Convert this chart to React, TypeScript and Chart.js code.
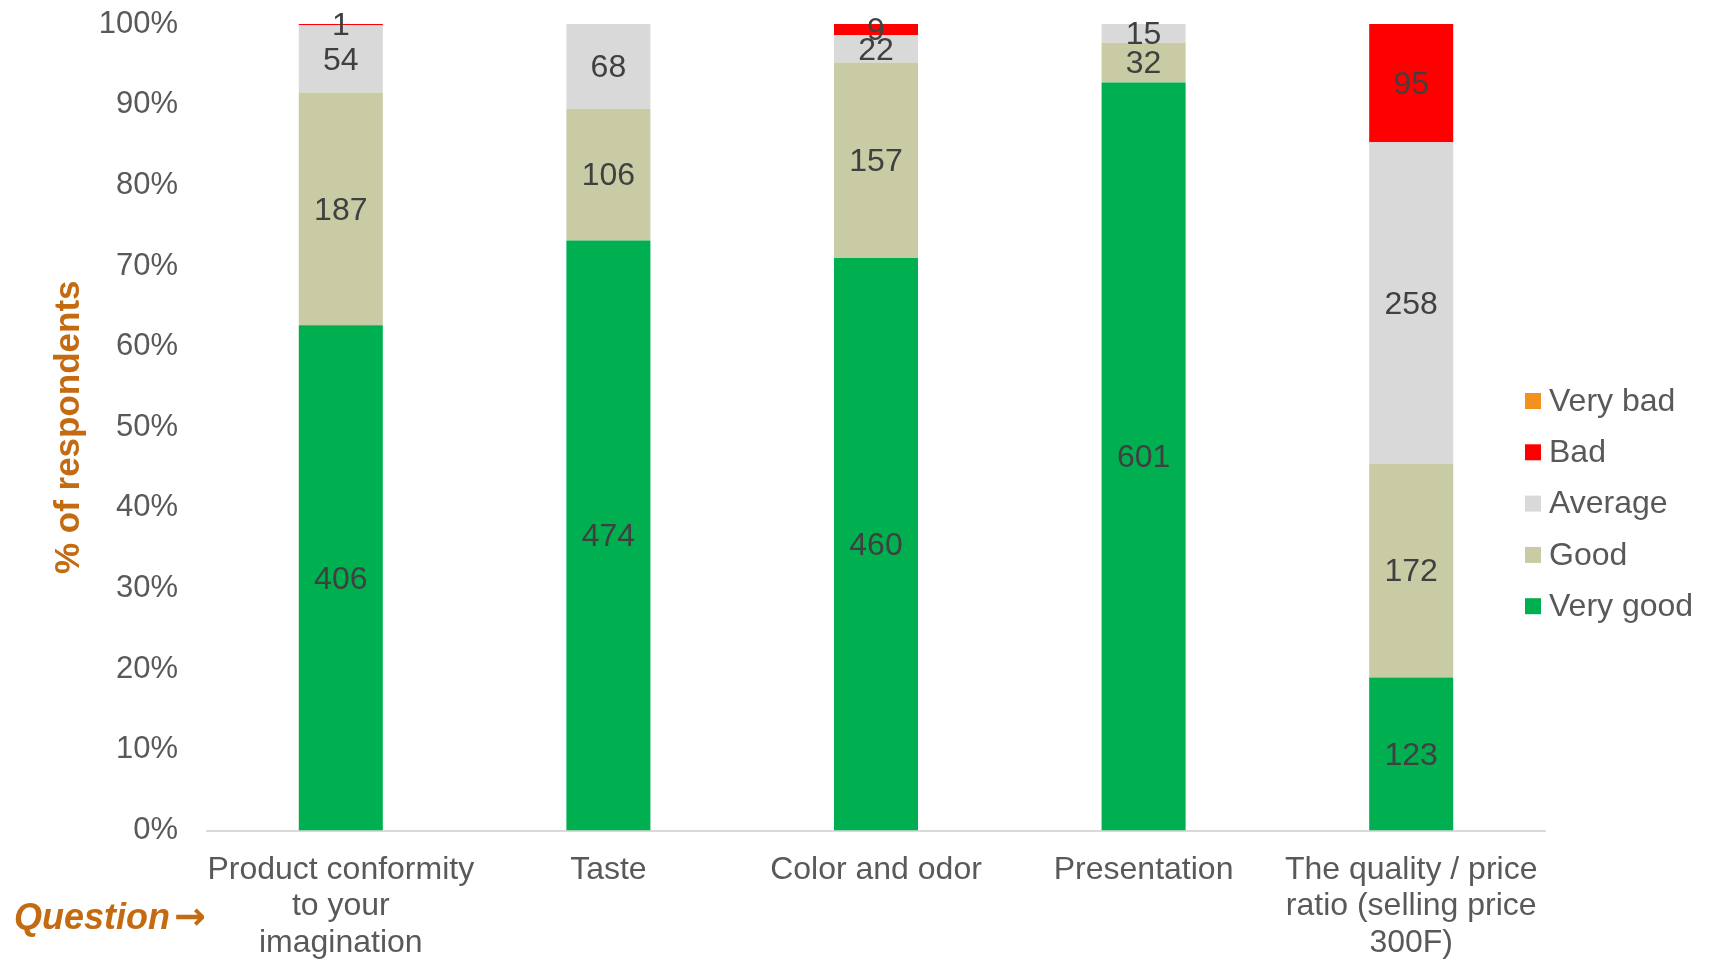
import React, { useEffect, useRef } from "react";
import { Chart, registerables } from "chart.js";

Chart.register(...registerables);

const categories: string[][] = [
  ["Product conformity", "to your", "imagination"],
  ["Taste"],
  ["Color and odor"],
  ["Presentation"],
  ["The quality / price", "ratio (selling price", "300F)"],
];
const seriesNames = ["Very good", "Good", "Average", "Bad", "Very bad"];
const veryGood = [406, 474, 460, 601, 123];
const good = [187, 106, 157, 32, 172];
const average = [54, 68, 22, 15, 258];
const bad = [1, 0, 9, 0, 95];
const veryBad = [0, 0, 0, 0, 0];
const seriesColors = ["#00B050", "#C9CBA4", "#D9D9D9", "#FF0000", "#F39020"];
const yTickValues = [0, 10, 20, 30, 40, 50, 60, 70, 80, 90, 100];
const yTitle = "% of respondents";
const questionLabel = "Question";
const questionArrow = "\u2192";

const FONT = '"Liberation Sans", Arial, sans-serif';
const ORANGE = "#C46A10";
const TEXT = 32;
const X_TICK_PAD = 21;
const Y_AXIS_WIDTH = 159;

export default function App() {
  const ref = useRef<HTMLCanvasElement | null>(null);

  useEffect(() => {
    document.body.style.margin = "0";
    document.body.style.overflow = "hidden";
    const canvas = ref.current;
    if (!canvas) return;

    const seriesCounts = [veryGood, good, average, bad, veryBad];
    const totals = categories.map((_, i) =>
      seriesCounts.reduce((s, arr) => s + arr[i], 0)
    );

    const datasets = seriesCounts.map((arr, si) => ({
      label: seriesNames[si],
      data: arr.map((v, i) => (v / totals[i]) * 100),
      counts: arr,
      backgroundColor: seriesColors[si],
      borderWidth: 0,
      barPercentage: 0.314,
      categoryPercentage: 1,
    }));

    const labelPlugin = {
      id: "segLabels",
      afterDatasetsDraw(chart: any) {
        const ctx = chart.ctx;
        ctx.save();
        ctx.font = `${TEXT}px ${FONT}`;
        ctx.fillStyle = "#404040";
        ctx.textAlign = "center";
        ctx.textBaseline = "middle";
        chart.data.datasets.forEach((ds: any, di: number) => {
          const meta = chart.getDatasetMeta(di);
          meta.data.forEach((el: any, i: number) => {
            const c = ds.counts[i];
            if (!c) return;
            const p = el.getProps(["x", "y", "base"], true);
            ctx.fillText(String(c), p.x, (p.y + p.base) / 2 + 2);
          });
        });
        ctx.restore();
      },
    };

    const legendPlugin = {
      id: "customLegend",
      afterDraw(chart: any) {
        const ctx = chart.ctx;
        ctx.save();
        ctx.font = `${TEXT}px ${FONT}`;
        ctx.textBaseline = "middle";
        ctx.textAlign = "left";
        const ds = chart.data.datasets.slice().reverse();
        const x0 = chart.chartArea.right - 20;
        const y0 = 401;
        const step = 51.3;
        ds.forEach((d: any, i: number) => {
          const y = y0 + i * step;
          ctx.fillStyle = d.backgroundColor;
          ctx.fillRect(x0, y - 8, 16, 16);
          ctx.fillStyle = "#595959";
          ctx.fillText(d.label, x0 + 24, y + 1);
        });
        // Question annotation
        ctx.font = `italic bold 36px ${FONT}`;
        ctx.fillStyle = ORANGE;
        ctx.fillText(questionLabel, 14, 919);
        const w = ctx.measureText(questionLabel).width;
        ctx.font = `bold 38px "DejaVu Sans", sans-serif`;
        ctx.fillText(questionArrow, 14 + w + 4, 919);
        ctx.restore();
      },
    };

    const chart = new Chart(canvas, {
      type: "bar",
      data: {
        labels: categories as any,
        datasets: datasets as any,
      },
      options: {
        animation: false,
        responsive: true,
        maintainAspectRatio: false,
        layout: {
          padding: { left: 48, right: 165, top: 24, bottom: 4 },
        },
        plugins: {
          legend: { display: false },
          tooltip: { enabled: false },
        },
        scales: {
          x: {
            stacked: true,
            grid: { display: false, drawTicks: false },
            border: { display: true, color: "#D9D9D9", width: 2 },
            ticks: {
              color: "#595959",
              font: { family: FONT, size: TEXT, lineHeight: 1.14 },
              padding: X_TICK_PAD,
              maxRotation: 0,
              autoSkip: false,
            },
            afterFit(scale: any) {
              scale.paddingLeft = 0;
              scale.paddingRight = 0;
              scale.height = scale.height - X_TICK_PAD;
            },
          },
          y: {
            stacked: true,
            min: 0,
            max: 100,
            afterBuildTicks(scale: any) {
              scale.ticks = yTickValues.map((v) => ({ value: v }));
            },
            afterFit(scale: any) {
              scale.paddingTop = 0;
              scale.paddingBottom = 0;
              scale.width = Y_AXIS_WIDTH;
            },
            grid: { display: false, drawTicks: false },
            border: { display: false },
            ticks: {
              color: "#595959",
              font: { family: FONT, size: 31 },
              padding: 29,
              callback: (v: any) => `${v}%`,
            },
            title: {
              display: true,
              text: yTitle,
              color: ORANGE,
              font: { family: FONT, size: 35, weight: "bold", lineHeight: 1.2 },
              padding: { top: 0, bottom: 0 },
            },
          },
        },
      },
      plugins: [labelPlugin, legendPlugin],
    });

    return () => chart.destroy();
  }, []);

  return (
    <div style={{ width: "1710px", height: "965px", position: "relative" }}>
      <canvas ref={ref} />
    </div>
  );
}
